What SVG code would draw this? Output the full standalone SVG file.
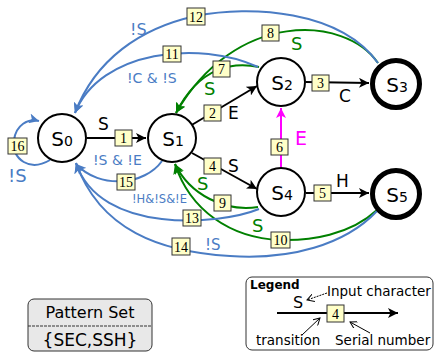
<svg xmlns="http://www.w3.org/2000/svg" width="436" height="352" viewBox="0 0 436 352">
<style>
.node{fill:#fff;stroke:#000;stroke-width:2}
.final{fill:#fff;stroke:#000;stroke-width:5}
.big{font-family:"DejaVu Sans",sans-serif;font-size:20px;fill:#000}
.sub{font-family:"DejaVu Sans",sans-serif;font-size:14px;fill:#000}
.e{fill:none;stroke-width:2}
.k{stroke:#000}
.b{stroke:#4a7cc4}
.g{stroke:#008000}
.m{stroke:#ff00ff}
.box{fill:#ffffc8;stroke:#333;stroke-width:1}
.num{font-family:"Liberation Serif",serif;font-size:14px;fill:#000;text-anchor:middle}
.lk{font-family:"DejaVu Sans",sans-serif;font-size:17px;fill:#000}
.lg{font-family:"DejaVu Sans",sans-serif;font-size:18px;fill:#008000}
.lb{font-family:"DejaVu Sans",sans-serif;font-size:14px;fill:#4a7cc4}
.txt{font-family:"DejaVu Sans",sans-serif;font-size:13.5px;fill:#000}
</style>
<defs>
<marker id="ak" markerUnits="userSpaceOnUse" markerWidth="11" markerHeight="10" refX="10" refY="5" orient="auto"><path d="M0,0 L10,5 L0,10 L2.5,5 Z" fill="#000"/></marker>
<marker id="ab" markerUnits="userSpaceOnUse" markerWidth="11" markerHeight="10" refX="10" refY="5" orient="auto"><path d="M0,0 L10,5 L0,10 L2.5,5 Z" fill="#4a7cc4"/></marker>
<marker id="ag" markerUnits="userSpaceOnUse" markerWidth="11" markerHeight="10" refX="10" refY="5" orient="auto"><path d="M0,0 L10,5 L0,10 L2.5,5 Z" fill="#008000"/></marker>
<marker id="am" markerUnits="userSpaceOnUse" markerWidth="11" markerHeight="10" refX="10" refY="5" orient="auto"><path d="M0,0 L10,5 L0,10 L2.5,5 Z" fill="#ff00ff"/></marker>
<marker id="as" markerUnits="userSpaceOnUse" markerWidth="8" markerHeight="8" refX="7" refY="4" orient="auto"><path d="M0,0 L7,4 L0,8" fill="none" stroke="#000" stroke-width="1"/></marker>
</defs>

<g id="connectors">
  <path class="e k" d="M87,138 L146,138" marker-end="url(#ak)"/>
  <path class="e k" d="M190,126 L257,86" marker-end="url(#ak)"/>
  <path class="e k" d="M306,82 L369,83" marker-end="url(#ak)"/>
  <path class="e k" d="M192,153 L257,189" marker-end="url(#ak)"/>
  <path class="e k" d="M306,193 L369,193" marker-end="url(#ak)"/>
  <path class="e m" d="M281,167 L281,108" marker-end="url(#am)"/>
  <path class="e g" d="M259,67 C235,62 200,65 176,113" marker-end="url(#ag)"/>
  <path class="e g" d="M378,63 C345,15 235,10 176,113" marker-end="url(#ag)"/>
  <path class="e g" d="M258,207 C225,212 190,195 175,164" marker-end="url(#ag)"/>
  <path class="e g" d="M377,210 C350,235 310,241 280,240 C230,238 190,210 175,164" marker-end="url(#ag)"/>
  <path class="e b" d="M258,67 C200,40 100,50 75,113" marker-end="url(#ab)"/>
  <path class="e b" d="M378,63 C340,10 250,5 196,16 C140,28 95,60 75,113" marker-end="url(#ab)"/>
  <path class="e b" d="M259,209 C220,225 100,235 76,163" marker-end="url(#ab)"/>
  <path class="e b" d="M377,211 C345,245 290,260 230,256 C160,252 100,230 76,163" marker-end="url(#ab)"/>
  <path class="e b" d="M162,161 C145,185 100,190 76,164" marker-end="url(#ab)"/>
  <path class="e b" d="M50,160 C30,172 12,160 14,140 C16,125 28,118 39,121" marker-end="url(#ab)"/>

  <text class="lk" x="98" y="130">S</text>
  <text class="lk" x="228" y="119">E</text>
  <text class="lk" x="339" y="102">C</text>
  <text class="lk" x="228" y="172">S</text>
  <text class="lk" x="336" y="187">H</text>
  <text x="295" y="145" font-family="DejaVu Sans, sans-serif" font-size="19" fill="#ff00ff">E</text>
  <text class="lg" x="204" y="95">S</text>
  <text class="lg" x="291" y="50">S</text>
  <text class="lg" x="197" y="190">S</text>
  <text class="lg" x="252" y="232">S</text>
  <text class="lb" x="127" y="83">!C &amp; !S</text>
  <text class="lb" x="130" y="35" style="font-size:16px">!S</text>
  <text class="lb" x="93" y="165">!S &amp; !E</text>
  <text class="lb" x="132" y="203" style="font-size:12px" textLength="55" lengthAdjust="spacingAndGlyphs">!H&amp;!S&amp;!E</text>
  <text class="lb" x="205" y="250" style="font-size:15px">!S</text>
  <text class="lb" x="8" y="182" style="font-size:18px">!S</text>

  <g><rect class="box" x="115" y="130" width="17" height="16"/><text class="num" x="123.5" y="143">1</text></g>
  <g><rect class="box" x="204" y="105" width="17" height="16"/><text class="num" x="212.5" y="118">2</text></g>
  <g><rect class="box" x="312" y="75" width="17" height="16"/><text class="num" x="320.5" y="88">3</text></g>
  <g><rect class="box" x="204" y="158" width="17" height="16"/><text class="num" x="212.5" y="171">4</text></g>
  <g><rect class="box" x="314" y="185" width="17" height="16"/><text class="num" x="322.5" y="198">5</text></g>
  <g><rect class="box" x="271" y="139" width="17" height="16"/><text class="num" x="279.5" y="152">6</text></g>
  <g><rect class="box" x="213" y="61" width="17" height="16"/><text class="num" x="221.5" y="74">7</text></g>
  <g><rect class="box" x="262" y="25" width="17" height="16"/><text class="num" x="270.5" y="38">8</text></g>
  <g><rect class="box" x="214" y="195" width="17" height="16"/><text class="num" x="222.5" y="208">9</text></g>
  <g><rect class="box" x="271" y="232" width="19" height="16"/><text class="num" x="280.5" y="245">10</text></g>
  <g><rect class="box" x="163" y="46" width="18" height="16"/><text class="num" x="172" y="59">11</text></g>
  <g><rect class="box" x="187" y="8" width="18" height="17"/><text class="num" x="196" y="21.5">12</text></g>
  <g><rect class="box" x="183" y="210" width="18" height="16"/><text class="num" x="192" y="223">13</text></g>
  <g><rect class="box" x="172" y="238" width="18" height="17"/><text class="num" x="181" y="251.5">14</text></g>
  <g><rect class="box" x="117" y="174" width="18" height="16"/><text class="num" x="126" y="187">15</text></g>
  <g><rect class="box" x="8" y="138" width="19" height="16"/><text class="num" x="17.5" y="151">16</text></g>
</g>

<g id="s0"><circle class="node" cx="62" cy="138" r="24"/><text x="62" y="146" text-anchor="middle"><tspan class="big">S</tspan><tspan class="sub">0</tspan></text></g>
<g id="s1"><circle class="node" cx="172" cy="138" r="24"/><text x="173" y="146" text-anchor="middle"><tspan class="big">S</tspan><tspan class="sub">1</tspan></text></g>
<g id="s2"><circle class="node" cx="281" cy="82" r="24"/><text x="282" y="90" text-anchor="middle"><tspan class="big">S</tspan><tspan class="sub">2</tspan></text></g>
<g id="s3"><circle class="final" cx="396" cy="84" r="23.5"/><text x="397" y="92" text-anchor="middle"><tspan class="big">S</tspan><tspan class="sub">3</tspan></text></g>
<g id="s4"><circle class="node" cx="281" cy="192" r="24"/><text x="282" y="200" text-anchor="middle"><tspan class="big">S</tspan><tspan class="sub">4</tspan></text></g>
<g id="s5"><circle class="final" cx="396" cy="194" r="23.5"/><text x="397" y="202" text-anchor="middle"><tspan class="big">S</tspan><tspan class="sub">5</tspan></text></g>

<g id="pattern-set">
  <rect x="28" y="299" width="124" height="52" rx="6" fill="#e8e8e8" stroke="#333" stroke-width="1"/>
  <line x1="28" y1="326" x2="152" y2="326" stroke="#333" stroke-width="1" stroke-dasharray="3,1"/>
  <text x="90" y="318" text-anchor="middle" font-family="DejaVu Sans, sans-serif" font-size="16" fill="#000">Pattern Set</text>
  <text x="90" y="346" text-anchor="middle" font-family="DejaVu Sans, sans-serif" font-size="17" fill="#000">{SEC,SSH}</text>
</g>

<g id="legend">
  <rect x="246" y="277" width="187" height="73" rx="6" fill="#fff" stroke="#333" stroke-width="1"/>
  <text x="250" y="289" font-family="DejaVu Sans, sans-serif" font-size="12" font-weight="bold" fill="#000">Legend</text>
  <text x="293" y="308" font-family="DejaVu Sans, sans-serif" font-size="16" fill="#000">S</text>
  <text class="txt" x="327" y="296">Input character</text>
  <path d="M277,313 L398,313" fill="none" stroke="#000" stroke-width="2" marker-end="url(#ak)"/>
  <rect class="box" x="327" y="305" width="17" height="17"/>
  <text class="num" x="335.5" y="318.5">4</text>
  <path d="M327,293 L307,300" fill="none" stroke="#000" stroke-width="1" stroke-dasharray="2,1" marker-end="url(#as)"/>
  <path d="M302,335 L320,318" fill="none" stroke="#000" stroke-width="1" marker-end="url(#as)"/>
  <path d="M370,333 L350,322" fill="none" stroke="#000" stroke-width="1" marker-end="url(#as)"/>
  <text class="txt" x="256" y="345">transition</text>
  <text class="txt" x="335" y="345">Serial number</text>
</g>
</svg>
